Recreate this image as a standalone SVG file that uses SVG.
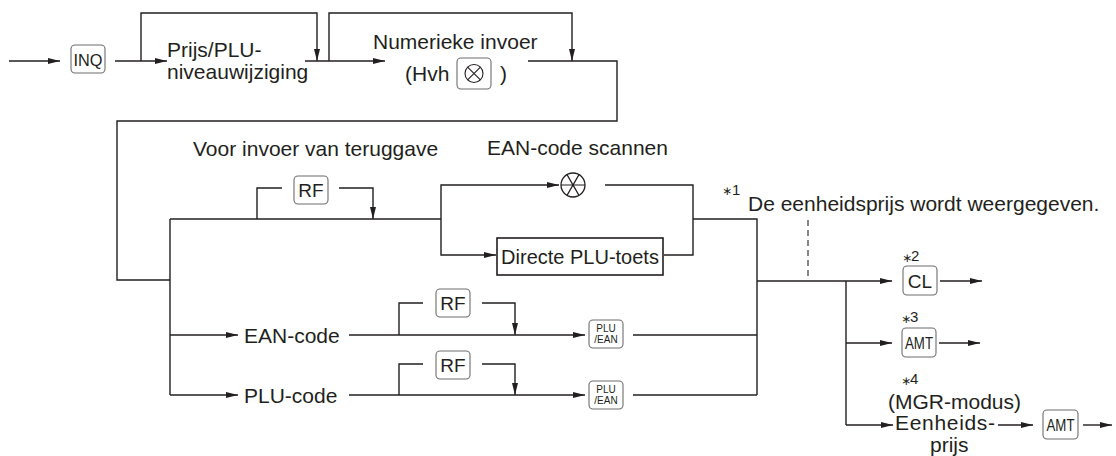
<svg xmlns="http://www.w3.org/2000/svg" width="1116" height="456" viewBox="0 0 1116 456">
<defs>
<marker id="ah" viewBox="0 0 12 6" refX="12" refY="3" markerWidth="12" markerHeight="6" markerUnits="userSpaceOnUse" orient="auto">
<path d="M0,0 L12,3 L0,6 Z" fill="#231f20"/>
</marker>
<style>
.c{fill:none;stroke:#231f20;stroke-width:1.4}
.a{marker-end:url(#ah)}
.d{fill:none;stroke:#555;stroke-width:1.4;stroke-dasharray:6 4}
.k{fill:#fff;stroke:#6d6d6d;stroke-width:1.1}
.t{font-family:"Liberation Sans",Arial,sans-serif;font-size:21px;fill:#231f20}
.kt{font-family:"Liberation Sans",Arial,sans-serif;fill:#231f20;text-anchor:middle}
.st{font-family:"DejaVu Sans",sans-serif;font-size:12px;fill:#231f20}
.sn{font-family:"Liberation Sans",Arial,sans-serif;font-size:15px;fill:#231f20}
</style>
</defs>
<rect width="1116" height="456" fill="#fff"/>

<g id="connectors">
<path class="c a" d="M9,61 H60"/>
<path class="c a" d="M115,61 H167"/>
<path class="c a" d="M141,61 V13 H317 V61"/>
<path class="c a" d="M305,61 H385"/>
<path class="c a" d="M329,61 V13 H572 V61"/>
<path class="c" d="M528,61 H617 V121 H117 V280 H170"/>
<path class="c" d="M170,219 V395"/>
<path class="c" d="M170,219 H441"/>
<path class="c" d="M257,219 V188 H282"/>
<path class="c a" d="M339,188 H373 V219"/>
<path class="c a" d="M441,219 V185 H559"/>
<path class="c a" d="M441,219 V255 H496"/>
<path class="c" d="M605,185 H693 V255 H664"/>
<path class="c" d="M693,219 H757 V395"/>
<path class="c a" d="M170,335 H238"/>
<path class="c a" d="M349,335 H585"/>
<path class="c" d="M399,335 V303 H423"/>
<path class="c a" d="M482,303 H515 V335"/>
<path class="c" d="M633,335 H757"/>
<path class="c a" d="M170,395 H238"/>
<path class="c a" d="M349,395 H585"/>
<path class="c" d="M399,395 V364 H423"/>
<path class="c a" d="M482,364 H515 V395"/>
<path class="c" d="M633,395 H757"/>
<path class="c a" d="M757,281 H892"/>
<path class="c" d="M846,281 V425"/>
<path class="c a" d="M846,343 H892"/>
<path class="c a" d="M846,425 H893"/>
<path class="c a" d="M940,281 H982"/>
<path class="c a" d="M939,343 H980"/>
<path class="c a" d="M998,425 H1033"/>
<path class="c a" d="M1083,425 H1112"/>
<path class="d" d="M808,220 V278"/>
</g>

<g id="inq">
<rect class="k" x="71" y="45" width="34" height="28" rx="4"/>
<text class="kt" x="88" y="65.5" font-size="17" textLength="29" lengthAdjust="spacingAndGlyphs">INQ</text>
</g>

<g id="prijs-plu">
<text class="t" x="167" y="57">Prijs/PLU-</text>
<text class="t" x="167" y="79">niveauwijziging</text>
</g>

<g id="numeriek">
<text class="t" x="373" y="49">Numerieke invoer</text>
<text class="t" x="405" y="81">(Hvh</text>
<rect class="k" x="457" y="58" width="34" height="31" rx="4"/>
<circle cx="474" cy="73.5" r="9" fill="none" stroke="#231f20" stroke-width="1.1"/>
<path d="M467.6,67.1 L480.4,79.9 M480.4,67.1 L467.6,79.9" stroke="#231f20" stroke-width="1.1"/>
<text class="t" x="500" y="81">)</text>
</g>

<g id="teruggave-label">
<text class="t" x="193" y="156">Voor invoer van teruggave</text>
</g>

<g id="rf-top">
<rect class="k" x="294" y="176" width="34" height="28" rx="4"/>
<text class="kt" x="311" y="197" font-size="19">RF</text>
</g>

<g id="scan">
<text class="t" x="487" y="155">EAN-code scannen</text>
<circle cx="573" cy="185" r="12" fill="none" stroke="#231f20" stroke-width="1.3"/>
<path d="M561,185 H585 M567,174.6 L579,195.4 M579,174.6 L567,195.4" stroke="#231f20" stroke-width="1.2"/>
</g>

<g id="directe-plu">
<rect x="497" y="238" width="166" height="37" fill="#fff" stroke="#231f20" stroke-width="1.6"/>
<text class="kt" x="580" y="263.5" font-size="20">Directe PLU-toets</text>
</g>

<g id="note1">
<text class="st" x="722" y="195">∗</text>
<text class="sn" x="732" y="195">1</text>
<text class="t" x="748" y="211">De eenheidsprijs wordt weergegeven.</text>
</g>

<g id="ean-code">
<text class="t" x="244" y="343">EAN-code</text>
</g>
<g id="rf-ean">
<rect class="k" x="436" y="289" width="34" height="28" rx="4"/>
<text class="kt" x="453" y="310" font-size="19">RF</text>
</g>
<g id="pluean-1">
<rect class="k" x="589" y="320" width="34" height="28" rx="4"/>
<text class="kt" x="606" y="332" font-size="10">PLU</text>
<text class="kt" x="606" y="343" font-size="10">/EAN</text>
</g>

<g id="plu-code">
<text class="t" x="244" y="403">PLU-code</text>
</g>
<g id="rf-plu">
<rect class="k" x="436" y="351" width="34" height="28" rx="4"/>
<text class="kt" x="453" y="372" font-size="19">RF</text>
</g>
<g id="pluean-2">
<rect class="k" x="589" y="381" width="34" height="28" rx="4"/>
<text class="kt" x="606" y="393" font-size="10">PLU</text>
<text class="kt" x="606" y="404" font-size="10">/EAN</text>
</g>

<g id="cl">
<text class="st" x="902" y="262">∗</text>
<text class="sn" x="911" y="261">2</text>
<rect class="k" x="903" y="266" width="34" height="29" rx="4"/>
<text class="kt" x="920" y="287.5" font-size="19">CL</text>
</g>

<g id="amt1">
<text class="st" x="901" y="323">∗</text>
<text class="sn" x="910" y="322">3</text>
<rect class="k" x="902" y="328" width="34" height="29" rx="4"/>
<text class="kt" x="919" y="348.5" font-size="16" textLength="28" lengthAdjust="spacingAndGlyphs">AMT</text>
</g>

<g id="mgr">
<text class="st" x="901" y="385">∗</text>
<text class="sn" x="910" y="384">4</text>
<text class="t" x="888" y="409">(MGR-modus)</text>
<text class="t" x="895" y="430" textLength="100">Eenheids-</text>
<text class="t" x="930" y="452">prijs</text>
</g>

<g id="amt2">
<rect class="k" x="1043" y="410" width="35" height="29" rx="4"/>
<text class="kt" x="1060.5" y="430.5" font-size="16" textLength="28" lengthAdjust="spacingAndGlyphs">AMT</text>
</g>
</svg>
